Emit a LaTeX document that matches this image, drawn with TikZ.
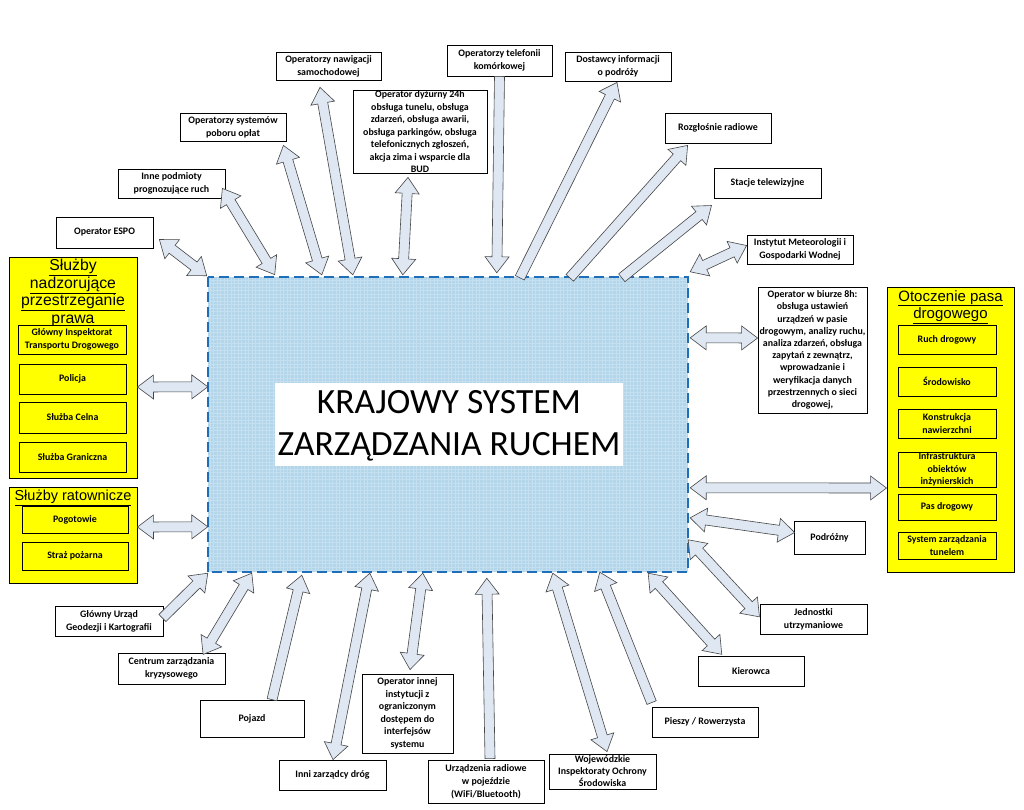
\documentclass[tikz,border=0pt]{standalone}
\usepackage{fontspec}
\setmainfont{Carlito}
\newfontfamily\arialf{Liberation Sans}
\usetikzlibrary{calc}
\definecolor{arrfill}{RGB}{222,231,242}
\definecolor{arrline}{RGB}{70,70,70}
\definecolor{sysfill}{RGB}{178,213,234}
\definecolor{sysgrid}{RGB}{196,224,240}
\definecolor{sysborder}{RGB}{30,110,185}
\definecolor{yel}{RGB}{255,255,0}
\tikzset{
 box/.style={draw=black, line width=0.8pt, fill=white, align=center, inner sep=1pt, font=\fontsize{9.9}{13}\selectfont\bfseries},
 ybox/.style={box, fill=yel},
 boxtext/.style={align=center, inner sep=0pt, font=\fontsize{9.9}{12.5}\selectfont\bfseries},
 ygroup/.style={draw=black, line width=0.9pt, fill=yel, inner sep=0pt},
 ytitle/.style={align=center, font=\arialf\fontsize{15}{17.5}\selectfont, inner sep=0pt},
 arr/.style={draw=arrline, fill=arrfill, line width=0.6pt, line join=miter},
}
\newcommand\blockarrow[3]{%
 \path let \p1=(#1), \p2=(#2) in \pgfextra{%
   \pgfmathsetmacro\myang{atan2(\y2-\y1,\x2-\x1)}%
   \pgfmathsetmacro\mylen{veclen(\x2-\x1,\y2-\y1)}%
   \pgfmathsetmacro\myb{\mylen-16}%
   \xdef\myang{\myang}\xdef\mylen{\mylen}\xdef\myb{\myb}%
   \xdef\myx{\x1}\xdef\myy{\y1}};
 \begin{scope}[shift={(\myx,\myy)},rotate=\myang]
 \if#3d
   \filldraw[arr] (0pt,0pt) -- (16pt,12pt) -- (16pt,5pt) -- (\myb pt,5pt) -- (\myb pt,12pt) -- (\mylen pt,0pt) -- (\myb pt,-12pt) -- (\myb pt,-5pt) -- (16pt,-5pt) -- (16pt,-12pt) -- cycle;
 \else
   \filldraw[arr] (0pt,5pt) -- (\myb pt,5pt) -- (\myb pt,12pt) -- (\mylen pt,0pt) -- (\myb pt,-12pt) -- (\myb pt,-5pt) -- (0pt,-5pt) -- cycle;
 \fi
 \end{scope}}
\begin{document}
\begin{tikzpicture}[x=1pt,y=-1pt]
\useasboundingbox (0,0) rectangle (1024,809);
\fill[white] (0,0) rectangle (1024,809);

% central system
\node[minimum width=480pt, minimum height=295pt, inner sep=0pt] (sys) at (448,424.5) {};
\fill[sysfill] (sys.north west) rectangle (sys.south east);
\begin{scope}
\clip (sys.north west) rectangle (sys.south east);
\draw[sysgrid, line width=0.4pt, step=3.5pt] (sys.south west) grid (sys.north east);
\end{scope}
\draw[sysborder, line width=1.6pt, dash pattern=on 10pt off 5pt] (sys.north west) rectangle (sys.south east);
\node[fill=white, minimum width=348pt, minimum height=83pt, inner sep=0pt] (titlebox) at (449,424.5) {};
\node[align=center, inner sep=0pt, font=\fontsize{35.5}{42}\selectfont] (title) at (449,426) {KRAJOWY SYSTEM\\ZARZĄDZANIA RUCHEM};

% top boxes
\node[box, minimum width=105pt, minimum height=28pt] (nav) at (328.5,66) {Operatorzy nawigacji\\samochodowej};
\node[box, minimum width=105pt, minimum height=31pt] (tel) at (499.5,60.5) {Operatorzy telefonii\\komórkowej};
\node[box, minimum width=106pt, minimum height=29pt] (dost) at (618,66.5) {Dostawcy informacji\\o podróży};
\node[box, minimum width=134pt, minimum height=83pt] (dyz) at (420,131.5) {};
\node[boxtext] (dyzt) at (420,132) {Operator dyżurny 24h\\obsługa tunelu, obsługa\\zdarzeń, obsługa awarii,\\obsługa parkingów, obsługa\\telefonicznych zgłoszeń,\\akcja zima i wsparcie dla\\BUD};
\node[box, minimum width=106pt, minimum height=28pt] (poboru) at (233,127) {Operatorzy systemów\\poboru opłat};
\node[box, minimum width=106pt, minimum height=30pt] (rozg) at (718,128) {Rozgłośnie radiowe};
\node[box, minimum width=107pt, minimum height=29pt] (inne) at (171.5,183.5) {Inne podmioty\\prognozujące ruch};
\node[box, minimum width=107pt, minimum height=30pt] (stacje) at (767.5,183) {Stacje telewizyjne};
\node[box, minimum width=97pt, minimum height=31pt] (espo) at (104.5,232.5) {Operator ESPO};
\node[box, minimum width=106pt, minimum height=29pt] (imgw) at (800,249.5) {Instytut Meteorologii i\\Gospodarki Wodnej};

% right side
\node[box, minimum width=109pt, minimum height=126pt, font=\fontsize{9.9}{12.2}\selectfont\bfseries] (biuro) at (812.5,350) {Operator w biurze 8h:\\obsługa ustawień\\urządzeń w pasie\\drogowym, analizy ruchu,\\analiza zdarzeń, obsługa\\zapytań z zewnątrz,\\wprowadzanie i\\weryfikacja danych\\przestrzennych o sieci\\drogowej,};
\node[ygroup, minimum width=127pt, minimum height=285pt] (otocz) at (950.5,429.5) {};
\node[ytitle] (otoczt) at (950.5,307) {\underline{Otoczenie pasa}\\\underline{drogowego}};
\node[ybox, minimum width=98pt, minimum height=29pt] (ruch) at (947,339.5) {Ruch drogowy};
\node[ybox, minimum width=98pt, minimum height=29pt] (srod) at (947,381.5) {Środowisko};
\node[ybox, minimum width=98pt, minimum height=29pt] (konstr) at (947,423.5) {Konstrukcja\\nawierzchni};
\node[ybox, minimum width=98pt, minimum height=35pt] (infra) at (947,469.5) {};
\node[boxtext] (infrat) at (947,469.5) {Infrastruktura\\obiektów\\inżynierskich};
\node[ybox, minimum width=98pt, minimum height=26pt] (pas) at (947,507) {Pas drogowy};
\node[ybox, minimum width=98pt, minimum height=27pt] (tunel) at (947,545.5) {System zarządzania\\tunelem};
\node[box, minimum width=71pt, minimum height=33pt] (podr) at (829.5,537.5) {Podróżny};
\node[box, minimum width=107pt, minimum height=30pt] (jedn) at (813.5,619) {Jednostki\\utrzymaniowe};

% bottom boxes
\node[box, minimum width=106pt, minimum height=30pt] (kier) at (751,671) {Kierowca};
\node[box, minimum width=106pt, minimum height=30pt] (pieszy) at (705,722) {Pieszy / Rowerzysta};
\node[box, minimum width=107pt, minimum height=35pt, font=\fontsize{9.9}{12}\selectfont\bfseries] (woj) at (602.5,771.5) {Wojewódzkie\\Inspektoraty Ochrony\\Środowiska};
\node[box, minimum width=116pt, minimum height=43pt] (urz) at (486,781.5) {Urządzenia radiowe\\w pojeździe\\(WiFi/Bluetooth)};
\node[box, minimum width=91pt, minimum height=79pt, font=\fontsize{9.9}{12.5}\selectfont\bfseries] (innej) at (407.5,713.5) {Operator innej\\instytucji z\\ograniczonym\\dostępem do\\interfejsów\\systemu};
\node[box, minimum width=107pt, minimum height=30pt] (inni) at (332.5,775) {Inni zarządcy dróg};
\node[box, minimum width=104pt, minimum height=37pt] (pojazd) at (252,718.5) {Pojazd};
\node[box, minimum width=107pt, minimum height=31pt] (centrum) at (171.5,668.5) {Centrum zarządzania\\kryzysowego};
\node[box, minimum width=108pt, minimum height=30pt] (guk) at (109,621) {Główny Urząd\\Geodezji i Kartografii};

% left groups
\node[ygroup, minimum width=128pt, minimum height=221pt] (sluzby) at (73,367.5) {};
\node[ytitle, font=\arialf\fontsize{15.8}{17.5}\selectfont] (sluzbyt) at (73,294) {\underline{Służby}\\\underline{nadzorujące}\\\underline{przestrzeganie}\\\underline{prawa}};
\node[ybox, minimum width=108pt, minimum height=29pt] (gitd) at (72,339.5) {Główny Inspektorat\\Transportu Drogowego};
\node[ybox, minimum width=107pt, minimum height=30pt] (policja) at (72.5,379) {Policja};
\node[ybox, minimum width=107pt, minimum height=31pt] (celna) at (72.5,417.5) {Służba Celna};
\node[ybox, minimum width=107pt, minimum height=30pt] (graniczna) at (72.5,457) {Służba Graniczna};
\node[ygroup, minimum width=128pt, minimum height=96pt] (ratow) at (73,535) {};
\node[ybox, minimum width=106pt, minimum height=27pt] (pogot) at (75,519.5) {Pogotowie};
\node[ybox, minimum width=106pt, minimum height=28pt] (straz) at (75,556) {Straż pożarna};
\node[ytitle, font=\arialf\fontsize{14.5}{17.5}\selectfont] (ratowt) at (73,498) {\underline{Służby ratownicze}};

% arrows
\blockarrow{$(espo.east)+(6,7)$}{$(sys.north west)+(-1,-1)$}{d}
\blockarrow{$(inne.south east)+(-3,-10)$}{$(sys.north west)+(67,-2)$}{d}
\blockarrow{$(poboru.south east)+(-3,4)$}{$(sys.north west)+(114,-2)$}{d}
\blockarrow{$(nav.south)+(-8.5,7)$}{$(sys.north west)+(145,-2)$}{d}
\blockarrow{$(dyz.south)+(-12,4)$}{$(sys.north west)+(195,-2)$}{d}
\blockarrow{tel.south}{$(sys.north west)+(289,-4)$}{e}
\blockarrow{$(sys.north west)+(312,1)$}{$(dost.south)+(-1,1)$}{e}
\blockarrow{$(sys.north west)+(362,1)$}{$(rozg.south west)+(23,2)$}{e}
\blockarrow{$(sys.north west)+(414,1)$}{$(stacje.south west)+(-2,7)$}{e}
\blockarrow{$(imgw.west)+(0,-4)$}{$(sys.north east)+(2,-5)$}{d}
\blockarrow{$(sys.north east)+(2,61)$}{$(biuro.west)+(0,-12)$}{d}
\blockarrow{$(sys.north east)+(2,211)$}{$(otocz.west)+(0,58.5)$}{d}
\blockarrow{$(sys.north east)+(2,241)$}{$(podr.west)+(1,-5)$}{d}
\blockarrow{$(sys.north east)+(0,263)$}{$(jedn.west)+(0,-2)$}{d}
\blockarrow{$(sys.south east)+(-40,1)$}{$(kier.north)+(-29,-1)$}{d}
\blockarrow{$(pieszy.north west)+(0,-4)$}{$(sys.south west)+(392,0)$}{e}
\blockarrow{$(sys.south west)+(345,1)$}{$(woj.north)+(4.5,-2)$}{d}
\blockarrow{$(urz.north)+(4,-1)$}{$(sys.south west)+(279,6)$}{e}
\blockarrow{$(sys.south west)+(215,1)$}{$(innej.north)+(2.5,-4)$}{d}
\blockarrow{$(sys.south west)+(162,1)$}{$(inni.north)+(0.5,0)$}{d}
\blockarrow{$(pojazd.north)+(20,0)$}{$(sys.south west)+(94,3)$}{e}
\blockarrow{$(sys.south west)+(44,1)$}{$(centrum.north)+(31.5,2)$}{d}
\blockarrow{$(guk.east)+(-1,-3)$}{$(sys.south west)+(0,1)$}{e}
\blockarrow{$(sluzby.east)+(0,19.5)$}{$(sys.north west)+(0,110)$}{d}
\blockarrow{$(ratow.east)+(0,-8)$}{$(sys.north west)+(0,250)$}{d}
\end{tikzpicture}
\end{document}
